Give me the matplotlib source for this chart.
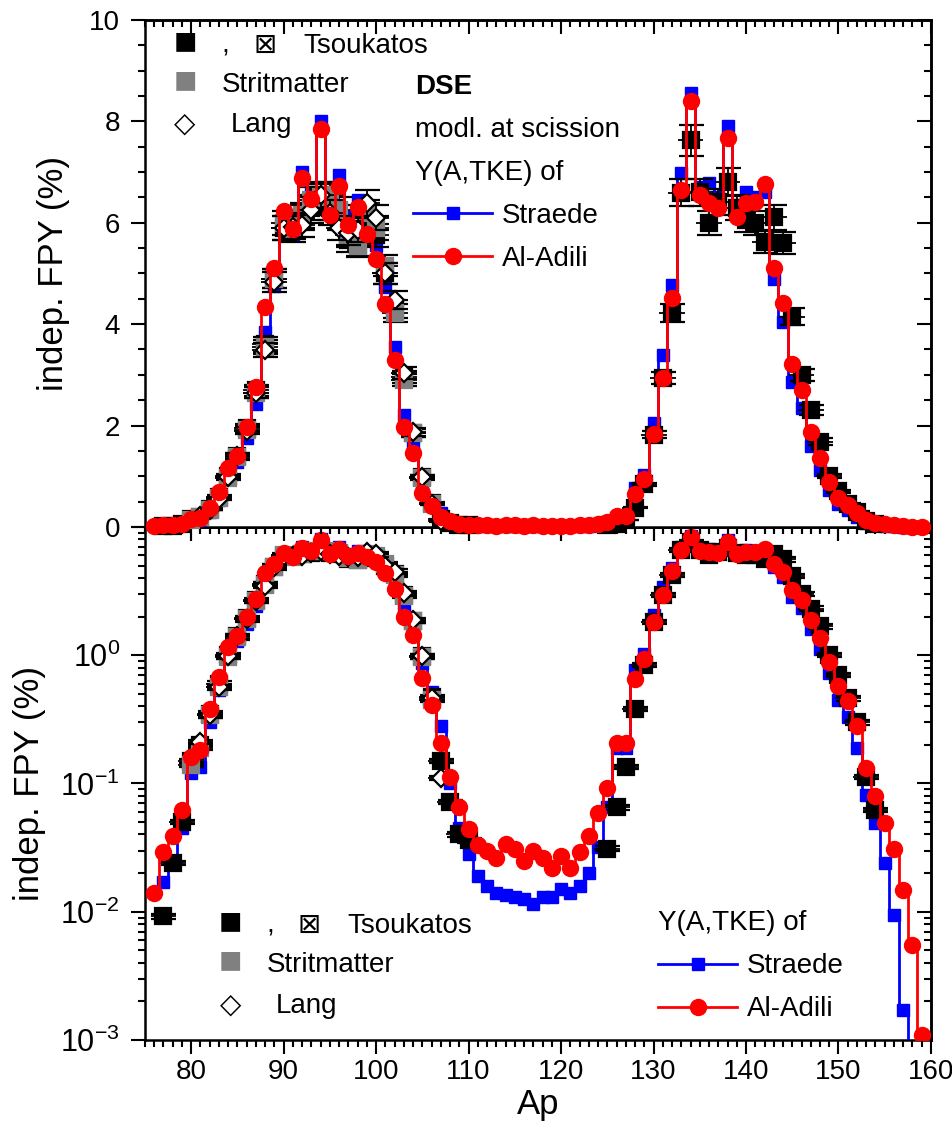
import numpy as np
import matplotlib
matplotlib.use('Agg')
import matplotlib.pyplot as plt
from matplotlib.ticker import MultipleLocator, FixedLocator, LogLocator, NullFormatter, FuncFormatter

plt.rcParams['font.family'] = ['Liberation Sans', 'DejaVu Sans']
plt.rcParams['mathtext.fontset'] = 'custom'
plt.rcParams['mathtext.rm'] = 'Liberation Sans'
plt.rcParams['mathtext.it'] = 'Liberation Sans:italic'
plt.rcParams['axes.unicode_minus'] = False

# ── model: DSE, Y(A,TKE) of Al-Adili (red) ──
A_adili = np.arange(76, 160)
Y_adili = [0.014, 0.029, 0.039, 0.062, 0.161, 0.183, 0.38, 0.68, 1.16, 1.40,
           1.97, 2.76, 4.34, 5.10, 6.23, 5.88, 6.88, 6.47, 7.85, 6.15,
           6.73, 5.96, 6.31, 5.78, 5.29, 4.40, 3.30, 1.98, 1.45, 0.67,
           0.41, 0.205, 0.112, 0.066, 0.044, 0.033, 0.030, 0.026, 0.034, 0.031,
           0.025, 0.030, 0.026, 0.022, 0.027, 0.022, 0.029, 0.039, 0.059, 0.092,
           0.207, 0.207, 0.65, 0.94, 1.83, 2.93, 4.52, 6.65, 8.40, 6.55,
           6.39, 6.29, 7.67, 6.11, 6.39, 6.41, 6.76, 5.10, 4.42, 3.22,
           2.70, 1.87, 1.36, 0.88, 0.58, 0.44, 0.28, 0.132, 0.080, 0.049,
           0.031, 0.0148, 0.0055, 0.0011]

# ── model: DSE, Y(A,TKE) of Straede (blue) ──
A_straede = np.arange(77, 159)
Y_straede = [0.017, 0.024, 0.045, 0.12, 0.135, 0.30, 0.54, 0.98, 1.28, 1.75,
             2.42, 3.85, 4.75, 6.09, 5.75, 7.00, 6.60, 8.00, 6.40, 6.95,
             6.11, 6.45, 5.96, 5.56, 4.73, 3.55, 2.21, 1.66, 0.87, 0.52,
             0.28, 0.10, 0.045, 0.028, 0.019, 0.016, 0.014, 0.0135, 0.013, 0.0125,
             0.0115, 0.013, 0.013, 0.015, 0.014, 0.016, 0.020, 0.032, 0.065, 0.19,
             0.19, 0.77, 1.03, 2.05, 3.39, 4.77, 6.98, 8.55, 6.70, 6.78,
             6.50, 7.90, 6.35, 6.60, 6.50, 6.60, 4.90, 4.05, 2.85, 2.35,
             1.60, 1.12, 0.72, 0.45, 0.33, 0.19, 0.081, 0.049, 0.024, 0.0095,
             0.0017, 0.0004]

# ── experiment ──
A_tsou_l = np.arange(77, 111)
Y_tsou_l = [0.0092, 0.024, 0.050, 0.15, 0.20, 0.35, 0.60, 1.00, 1.40, 1.95,
            2.70, 3.60, 4.90, 5.90, 5.95, 6.10, 6.30, 6.40, 6.30, 6.10,
            5.65, 5.56, 5.90, 5.75, 5.00, 4.30, 2.95, 1.85, 0.98, 0.47,
            0.15, 0.072, 0.040, 0.036]
A_tsou_h = np.arange(125, 155)
Y_tsou_h = [0.031, 0.065, 0.135, 0.38, 0.84, 1.82, 2.94, 4.22, 6.59, 7.63,
            6.60, 6.00, 6.40, 6.80, 6.30, 6.05, 6.00, 5.62, 6.11, 5.60,
            4.15, 3.00, 2.31, 1.68, 1.00, 0.70, 0.46, 0.30, 0.112, 0.062]
A_strit = np.arange(80, 107)
Y_strit = [0.14, 0.19, 0.34, 0.57, 0.97, 1.38, 1.92, 2.65, 3.55, 4.90,
           6.00, 5.85, 6.15, 6.45, 6.50, 6.55, 6.25, 5.75, 5.55, 6.20,
           5.90, 5.15, 4.22, 2.90, 1.85, 0.97, 0.45]
A_lang = np.arange(81, 108)
Y_lang = [0.21, 0.34, 0.56, 0.98, 1.40, 1.90, 2.65, 3.49, 4.83, 5.90,
          5.92, 5.96, 6.25, 6.55, 6.20, 5.90, 5.80, 5.85, 6.39, 6.10,
          5.00, 4.48, 3.04, 1.87, 0.99, 0.46, 0.11]
rel_err = 0.04

BLUE = '#0000ff'
RED = '#ff0000'
GRAY = '#808080'


def draw_data(ax, clip):
    l_s, = ax.plot(A_straede, Y_straede, drawstyle='steps-mid', color=BLUE, lw=2.0,
                   marker='s', ms=8, zorder=3, clip_on=clip)
    exps = [(A_tsou_l, Y_tsou_l, 's', 'black', 'black'),
            (A_tsou_h, Y_tsou_h, 's', 'black', 'black'),
            (A_strit, Y_strit, 's', GRAY, GRAY),
            (A_lang, Y_lang, 'D', 'white', 'black')]
    for k, (a, y, m, fc, ec) in enumerate(exps):
        y = np.asarray(y)
        ax.errorbar(a, y, xerr=1.4, fmt='none', ecolor='black', elinewidth=1.3,
                    capsize=0, zorder=4 + 0.1 * k, clip_on=clip)
        ax.errorbar(a, y, yerr=rel_err * y, fmt=m, ms=11 if m == 's' else 9,
                    mfc=fc, mec=ec, mew=1.6, ecolor='black', elinewidth=1.3,
                    capsize=9, capthick=1.3, zorder=4 + 0.1 * k, clip_on=clip)
    l_a, = ax.plot(A_adili, Y_adili, drawstyle='steps-mid', color=RED, lw=2.0,
                   marker='o', ms=11.5, zorder=5, clip_on=clip)
    return l_s, l_a


def style_ticks(ax, ymajor, yminor, xlabels):
    ax.xaxis.set_major_locator(MultipleLocator(10))
    ax.xaxis.set_minor_locator(MultipleLocator(1))
    ax.yaxis.set_major_locator(ymajor)
    ax.yaxis.set_minor_locator(yminor)
    ax.tick_params(which='both', direction='out', top=False, right=False, width=1.5,
                   labelsize=20)
    ax.tick_params(which='major', length=10)
    ax.tick_params(which='minor', length=5)
    ax.tick_params(axis='y', pad=8)
    ax.tick_params(axis='x', pad=4, labelbottom=xlabels)
    for s in ax.spines.values():
        s.set_linewidth(1.8)
    sx = ax.secondary_xaxis('top')
    sx.xaxis.set_major_locator(MultipleLocator(10))
    sx.xaxis.set_minor_locator(MultipleLocator(1))
    sx.tick_params(which='both', direction='in', labeltop=False, width=1.5)
    sx.tick_params(which='major', length=10)
    sx.tick_params(which='minor', length=5)
    sx.spines['top'].set_linewidth(1.8)
    sy = ax.secondary_yaxis('right')
    sy.yaxis.set_major_locator(ymajor)
    sy.yaxis.set_minor_locator(yminor)
    sy.tick_params(which='both', direction='in', labelright=False, width=1.5)
    sy.tick_params(which='major', length=10)
    sy.tick_params(which='minor', length=5)
    sy.spines['right'].set_linewidth(1.8)


fig = plt.figure(figsize=(9.52, 11.25), dpi=100)
ax1 = fig.add_axes([0.1523, 0.5316, 0.8256, 0.4507])
ax2 = fig.add_axes([0.1523, 0.0756, 0.8256, 0.4560])
ax1.set_zorder(2)

# ── top: linear ──
l_s, l_a = draw_data(ax1, False)
ax1.set_xlim(75, 160)
ax1.set_ylim(0, 10)
style_ticks(ax1, MultipleLocator(2), MultipleLocator(0.5), False)
ax1.set_ylabel('indep. FPY (%)', fontsize=25, labelpad=14)

# ── bottom: log ──
draw_data(ax2, True)
ax2.set_yscale('log')
ax2.set_xlim(75, 160)
ax2.set_ylim(1e-3, 1e1)
style_ticks(ax2, FixedLocator([1e-3, 1e-2, 1e-1, 1e0, 1e1]),
            LogLocator(base=10, subs=np.arange(2, 10)), True)
ax2.yaxis.set_minor_formatter(NullFormatter())
ax2.yaxis.set_major_formatter(FuncFormatter(
    lambda v, p: '' if v > 5 else r'$\mathregular{10^{%d}}$' % round(np.log10(v))))
ax2.tick_params(axis='y', labelsize=22)
ax2.set_ylabel('indep. FPY (%)', fontsize=25, labelpad=10)
ax2.set_xlabel('Ap', fontsize=25, labelpad=2)

# ── keys ──
fs = 20
def exp_key(ax, xs, ys):
    x_sq, x_cm, x_bx, x_ts, x_st, x_la = xs
    y1, y2, y3 = ys
    t = ax.transAxes
    ax.text(x_sq, y1, '■', color='black', fontsize=28, ha='center', va='baseline', transform=t)
    ax.text(x_cm, y1, ',', fontsize=fs, ha='center', va='baseline', transform=t)
    ax.text(x_bx, y1, '⊠', fontsize=fs, ha='center', va='baseline', transform=t)
    ax.text(x_ts, y1, 'Tsoukatos', fontsize=fs, ha='left', va='baseline', transform=t)
    ax.text(x_sq, y2, '■', color=GRAY, fontsize=28, ha='center', va='baseline', transform=t)
    ax.text(x_st, y2, 'Stritmatter', fontsize=fs, ha='left', va='baseline', transform=t)
    ax.text(x_sq, y3, '◇', fontsize=fs, ha='center', va='baseline', transform=t)
    ax.text(x_la, y3, 'Lang', fontsize=fs, ha='left', va='baseline', transform=t)

exp_key(ax1, (0.0509, 0.1018, 0.1527, 0.201, 0.098, 0.109), (0.935, 0.858, 0.779))
exp_key(ax2, (0.109, 0.159, 0.209, 0.258, 0.155, 0.167), (0.2086, 0.1326, 0.0526))

ax1.text(0.3435, 0.854, 'DSE', fontsize=fs, fontweight='bold', ha='left', va='baseline',
         transform=ax1.transAxes)
ax1.text(0.3435, 0.769, 'modl. at scission', fontsize=fs, ha='left', va='baseline',
         transform=ax1.transAxes)
ax1.text(0.3435, 0.684, 'Y(A,TKE) of', fontsize=fs, ha='left', va='baseline',
         transform=ax1.transAxes)
ax2.text(0.653, 0.2144, 'Y(A,TKE) of', fontsize=fs, ha='left', va='baseline',
         transform=ax2.transAxes)

leg_kw = dict(loc='upper left', frameon=False, fontsize=fs, handlelength=2.85,
              handletextpad=0.35, labelspacing=0.62, borderpad=0, borderaxespad=0,
              numpoints=1)
ax1.legend([l_s, l_a], ['Straede', 'Al-Adili'], bbox_to_anchor=(0.341, 0.639), **leg_kw)
ax2.legend([l_s, l_a], ['Straede', 'Al-Adili'], bbox_to_anchor=(0.653, 0.169), **leg_kw)

fig.savefig('out.png', dpi=100)
